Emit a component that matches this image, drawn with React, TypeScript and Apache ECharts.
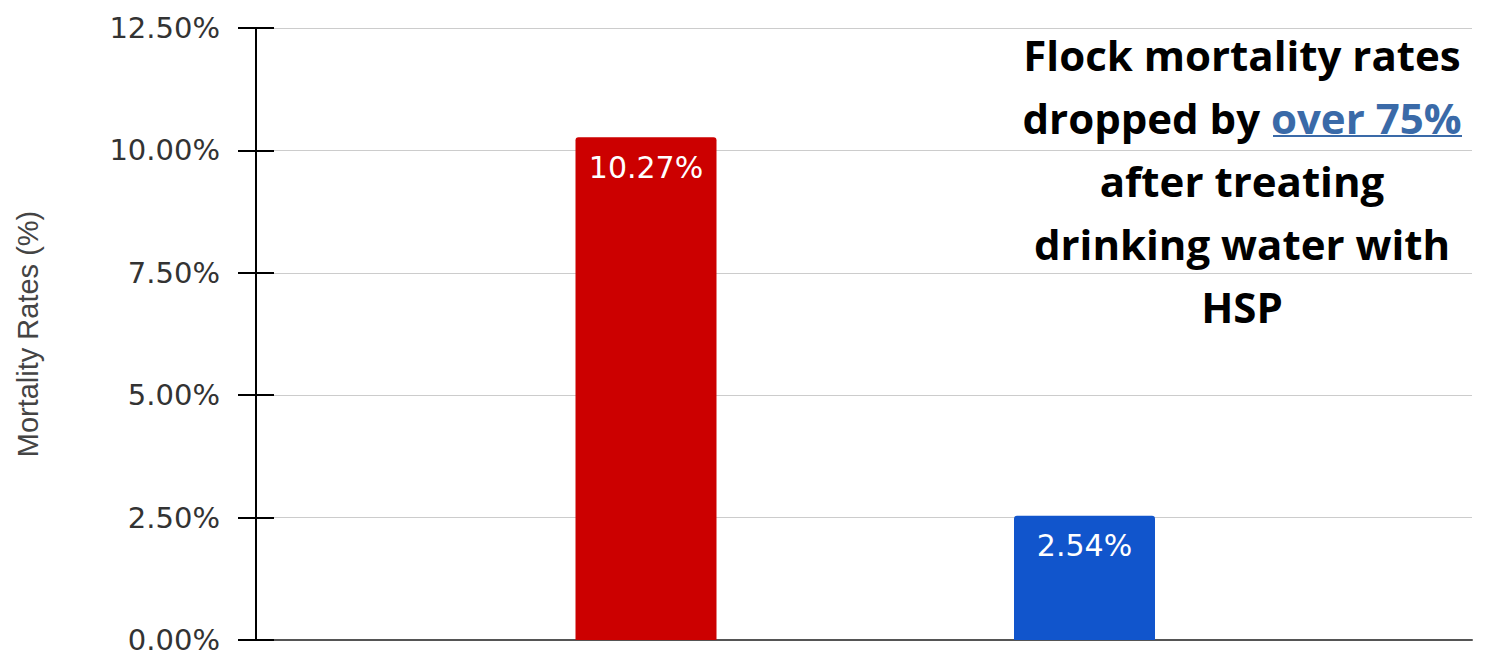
import React, { useEffect, useRef } from "react";
import * as echarts from "echarts";

// ---- data ----
const categories: string[] = ["Before HSP", "After HSP"];
const mortality: number[] = [10.27, 2.54];
const barColors: string[] = ["#cc0000", "#1155cc"];
const yMin = 0;
const yMax = 12.5;
const yInterval = 2.5;
const yAxisName = "Mortality Rates (%)";
const noteText =
  "Flock mortality rates\ndropped by {u|over 75%}\nafter treating\ndrinking water with\nHSP";

const pct = (v: number) => v.toFixed(2) + "%";

export default function App() {
  const ref = useRef<HTMLDivElement>(null);
  useEffect(() => {
    const chart = echarts.init(ref.current!, null, { renderer: "svg" });
    const option: any = {
      animation: false,
      backgroundColor: "#ffffff",
      grid: [
        { left: 256, right: 21, top: 28, bottom: 19, containLabel: false, outerBoundsMode: "none" },
        { left: 426.75, right: 189.25, top: 28, bottom: 19, containLabel: false, outerBoundsMode: "none" },
      ],
      xAxis: [
        {
          gridIndex: 0,
          type: "category",
          data: categories,
          axisLine: { show: true, lineStyle: { color: "#555", width: 2 } },
          axisTick: { show: false },
          axisLabel: { show: false },
          splitLine: { show: false },
        },
        { gridIndex: 1, type: "category", data: categories, show: false },
      ],
      yAxis: [
        {
          gridIndex: 0,
          type: "value",
          position: "left",
          min: yMin,
          max: yMax,
          interval: yInterval,
          name: yAxisName,
          nameLocation: "middle",
          nameRotate: 90,
          nameGap: 214,
          nameTextStyle: {
            fontSize: 29,
            fontFamily: "Liberation Sans",
            color: "#444",
          },
          axisLine: { show: true, lineStyle: { color: "#000", width: 2 } },
          axisTick: { show: true, length: 18, lineStyle: { color: "#000", width: 2 } },
          axisLabel: {
            margin: 36,
            formatter: (v: number) => pct(v),
            fontSize: 29,
            fontFamily: "DejaVu Sans",
            color: "#333",
          },
          splitLine: { show: true, lineStyle: { color: "#cccccc", width: 1 } },
        },
        {
          gridIndex: 0,
          type: "value",
          position: "left",
          min: yMin,
          max: yMax,
          interval: yInterval,
          axisLine: { show: false },
          axisTick: {
            show: true,
            inside: true,
            length: 18,
            lineStyle: { color: "#000", width: 2 },
          },
          axisLabel: { show: false },
          splitLine: { show: false },
        },
        { gridIndex: 1, type: "value", min: yMin, max: yMax, show: false },
      ],
      series: [
        {
          type: "bar",
          xAxisIndex: 1,
          yAxisIndex: 2,
          barWidth: 141,
          data: mortality.map((v, i) => ({
            value: v,
            itemStyle: { color: barColors[i] },
          })),
          itemStyle: { borderRadius: [3, 3, 0, 0] },
          label: {
            show: true,
            position: "insideTop",
            distance: 15,
            formatter: (p: any) => pct(p.value),
            color: "#ffffff",
            fontSize: 30,
            fontFamily: "DejaVu Sans",
          },
        },
      ],
      graphic: [
        {
          type: "text",
          x: 1242,
          y: 23,
          z: 10,
          style: {
            text: noteText,
            x: 0,
            y: 0,
            align: "center",
            verticalAlign: "top",
            fill: "#000",
            fontSize: 42,
            fontWeight: "bold",
            fontFamily: "Open Sans",
            lineHeight: 63,
            rich: {
              u: {
                fill: "#3a6aa8",
                fontSize: 42,
                fontWeight: "bold",
                fontFamily: "Open Sans",
                lineHeight: 63,
              },
            },
          },
        },
        {
          type: "line",
          z: 10,
          shape: { x1: 1273, y1: 136, x2: 1462, y2: 136 },
          style: { stroke: "#3a6aa8", lineWidth: 2 },
        },
      ],
    };
    chart.setOption(option);
    return () => chart.dispose();
  }, []);
  return (
    <div
      ref={ref}
      style={{ position: "fixed", left: 0, top: 0, width: 1493, height: 659 }}
    />
  );
}
